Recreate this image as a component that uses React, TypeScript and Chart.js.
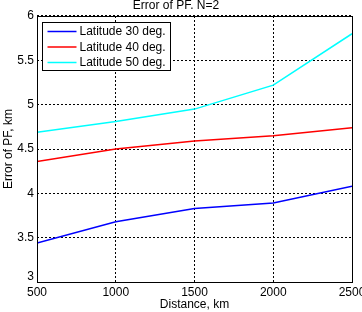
import { useEffect, useRef } from "react";
import { Chart, registerables } from "chart.js";

Chart.register(...registerables);

// Distance along the track, km
const distances = [500, 1000, 1500, 2000, 2500];
// Error of PF for each latitude, km
const lat30 = [3.44, 3.68, 3.83, 3.89, 4.08];
const lat40 = [4.36, 4.5, 4.59, 4.65, 4.74];
const lat50 = [4.69, 4.81, 4.95, 5.22, 5.8];

const seriesLabels = ["Latitude 30 deg.", "Latitude 40 deg.", "Latitude 50 deg."];
const seriesColors = ["#0000ff", "#ff0000", "#00ffff"];
const chartTitle = "Error of PF. N=2";
const xTitle = "Distance, km";
const yTitle = "Error of PF, km";

const FONT = "'Liberation Sans', Arial, sans-serif";
const font = { family: FONT, size: 12, weight: "normal" as const };

// Solid box around the axes plus a boxed legend in the upper-left corner
const frameAndLegend = {
  id: "frameAndLegend",
  afterDatasetsDraw(chart: any) {
    const { ctx, chartArea: a } = chart;
    ctx.save();
    ctx.strokeStyle = "#000";
    ctx.lineWidth = 1;
    const l = Math.round(a.left) + 0.5;
    const t = Math.round(a.top) + 0.5;
    ctx.strokeRect(l, t, Math.round(a.right) - Math.round(a.left), Math.round(a.bottom) - Math.round(a.top));

    const x0 = Math.round(a.left) + 5.5;
    const y0 = Math.round(a.top) + 6.5;
    ctx.fillStyle = "#fff";
    ctx.fillRect(x0, y0, 128, 48);
    ctx.strokeRect(x0, y0, 128, 48);
    ctx.font = `12px ${FONT}`;
    ctx.textBaseline = "middle";
    ctx.textAlign = "left";
    seriesLabels.forEach((label, i) => {
      const y = y0 + 9 + i * 15.5;
      ctx.strokeStyle = seriesColors[i];
      ctx.lineWidth = 1.5;
      ctx.beginPath();
      ctx.moveTo(x0 + 5, y);
      ctx.lineTo(x0 + 34, y);
      ctx.stroke();
      ctx.fillStyle = "#000";
      ctx.fillText(label, x0 + 37, y + 0.5);
    });
    ctx.restore();
  },
};

export default function App() {
  const canvasRef = useRef<HTMLCanvasElement | null>(null);

  useEffect(() => {
    const canvas = canvasRef.current;
    if (!canvas) return;
    const series = [lat30, lat40, lat50];
    const chart = new Chart(canvas, {
      type: "line",
      data: {
        datasets: series.map((vals, i) => ({
          label: seriesLabels[i],
          data: distances.map((d, j) => ({ x: d, y: vals[j] })),
          borderColor: seriesColors[i],
          backgroundColor: seriesColors[i],
          borderWidth: 1.5,
          pointRadius: 0,
          tension: 0,
        })),
      },
      options: {
        animation: false,
        responsive: false,
        devicePixelRatio: 1,
        layout: { padding: { left: 0, right: 10, top: 0, bottom: 0 } },
        plugins: {
          legend: { display: false },
          tooltip: { enabled: false },
          title: {
            display: true,
            text: chartTitle,
            color: "#000",
            font,
            padding: { top: -2, bottom: 3.6 },
          },
        },
        scales: {
          x: {
            type: "linear",
            min: 500,
            max: 2500,
            ticks: {
              stepSize: 500,
              color: "#000",
              font,
              padding: 3,
              maxRotation: 0,
              autoSkip: false,
              callback: (v: any) => String(v),
            },
            grid: { color: "#000", drawTicks: false },
            border: { display: false, dash: [2, 2] },
            title: { display: true, text: xTitle, color: "#000", font, padding: 0 },
            afterFit(s: any) {
              s.height = 30;
              s.paddingLeft = 0;
              s.paddingRight = 0;
            },
          },
          y: {
            type: "linear",
            min: 3,
            max: 6,
            ticks: {
              stepSize: 0.5,
              color: "#000",
              font: { ...font, lineHeight: 0.85 },
              padding: 3,
              // the lowest label sits a little higher so it clears the x labels
              callback: (v: any) => (v === 3 ? ["3", ""] : String(v)),
            },
            grid: { color: "#000", drawTicks: false },
            border: { display: false, dash: [2, 2] },
            title: { display: true, text: yTitle, color: "#000", font, padding: 1 },
            afterFit(s: any) {
              s.width = 37;
              s.paddingTop = 0;
              s.paddingBottom = 0;
            },
          },
        },
      },
      plugins: [frameAndLegend],
    });
    return () => chart.destroy();
  }, []);

  return (
    <div style={{ position: "fixed", left: 0, top: 0, width: 362, height: 312, background: "#fff" }}>
      <canvas ref={canvasRef} width={362} height={312} style={{ display: "block" }} />
    </div>
  );
}
